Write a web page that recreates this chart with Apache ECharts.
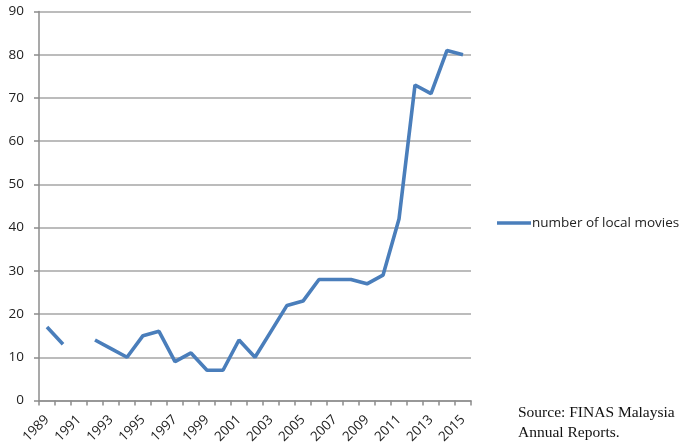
<!DOCTYPE html>
<html><head><meta charset="utf-8">
<script src="https://cdn.jsdelivr.net/npm/echarts@6/dist/echarts.min.js"></script>
<style>html,body{margin:0;padding:0;background:#fff}#c{width:683px;height:444px}</style>
</head><body><div id="c"></div>
<script>
const years = ['1989','1990','1991','1992','1993','1994','1995','1996','1997','1998','1999','2000','2001','2002','2003','2004','2005','2006','2007','2008','2009','2010','2011','2012','2013','2014','2015'];
const movies = [17,13,null,14,12,10,15,16,9,11,7,7,14,10,16,22,23,28,28,28,27,29,42,73,71,81,80];
const seriesName = 'number of local movies';
const yTicks = [0,10,20,30,40,50,60,70,80,90];
const sourceLines = ['Source: FINAS Malaysia', 'Annual Reports.'];

const chart = echarts.init(document.getElementById('c'), null, {renderer:'canvas'});
chart.setOption({
  animation:false,
  backgroundColor:'#fff',
  grid:{left:39, right:212, top:11.5, bottom:43.5, containLabel:false, outerBoundsMode:'none'},
  legend:{
    data:[{name:seriesName, icon:'rect'}],
    left:497, top:216, padding:0, itemWidth:34, itemHeight:3.5, itemGap:2,
    textStyle:{fontFamily:'Open Sans', fontSize:13.5, color:'#222', padding:[0,0,0,-4]}
  },
  graphic:[{type:'text', left:518, top:403, style:{text:sourceLines.join('\n'), font:'15.5px "Liberation Serif"', fill:'#111', lineHeight:20}}],
  xAxis:{
    type:'category', data:years, boundaryGap:true,
    axisLine:{lineStyle:{color:'#8c8c8c', width:1.5}},
    axisTick:{show:true, interval:0, length:5, lineStyle:{color:'#8c8c8c', width:1.5}},
    axisLabel:{interval:1, rotate:45, fontFamily:'Open Sans', fontSize:13.5, color:'#222', margin:17}
  },
  yAxis:{
    type:'value', min:yTicks[0], max:yTicks[yTicks.length-1], interval:10,
    axisLine:{show:true, lineStyle:{color:'#8c8c8c', width:1.5}},
    axisTick:{show:true, length:5, lineStyle:{color:'#8c8c8c', width:1.5}},
    splitLine:{lineStyle:{color:'#a6a6a6', width:1.5}},
    axisLabel:{fontFamily:'Open Sans', fontSize:13.5, color:'#222', margin:15}
  },
  series:[{
    name:seriesName, type:'line', data:movies, symbol:'none', connectNulls:false,
    lineStyle:{color:'#4a7ebb', width:3.6}, itemStyle:{color:'#4a7ebb'}
  }]
});
</script></body></html>
